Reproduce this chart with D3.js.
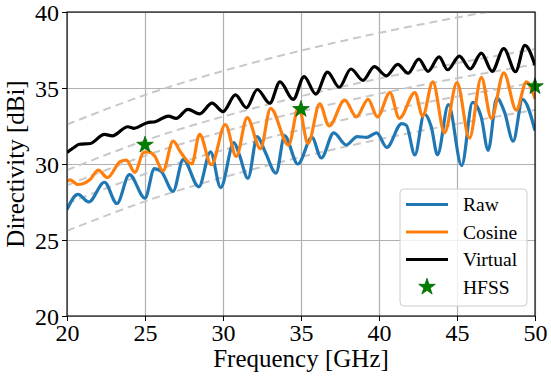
<!DOCTYPE html>
<html lang="en">
<head>
<meta charset="UTF-8">
<title>Directivity vs Frequency</title>
<script src="https://cdn.jsdelivr.net/npm/d3@7/dist/d3.min.js"></script>
<style>
  body { margin: 0; background: #fff; }
  text { font-family: "Liberation Serif", "Times New Roman", serif; fill: #000; }
  .grid line { stroke: #b0b0b0; stroke-width: 1.2; }
  .grid path { display: none; }
</style>
</head>
<body>
<div id="chart"></div>
<script>
// ticks
const xTicks = [20, 25, 30, 35, 40, 45, 50];
const yTicks = [20, 25, 30, 35, 40];

// Raw
const rawFreq = [20.0, 20.7, 21.4, 22.4, 23.2, 24.0, 25.0, 25.6, 26.05, 26.8, 27.45, 28.45, 29.2, 29.85, 30.7, 31.05, 31.6, 32.2, 32.7, 33.4, 33.95, 34.8, 35.7, 36.3, 37.1, 37.9, 38.6, 39.2, 39.85, 40.5, 41.45, 41.75, 42.3, 42.9, 43.35, 43.75, 44.45, 45.3, 46.0, 46.55, 47.0, 47.55, 48.05, 48.6, 49.2, 50.0];
const rawDir  = [27.0, 28.0, 27.5, 28.8, 27.4, 29.3, 27.75, 29.7, 29.5, 28.2, 30.3, 28.5, 30.8, 28.45, 31.4, 30.6, 29.06, 31.8, 30.8, 29.4, 31.85, 30.0, 31.75, 30.4, 32.05, 31.25, 31.8, 31.75, 32.05, 31.1, 32.65, 32.55, 30.6, 33.3, 32.45, 30.6, 33.9, 29.9, 34.05, 33.1, 30.9, 34.35, 33.4, 31.5, 34.25, 32.2];

// Cosine
const cosFreq = [20.0, 20.2, 20.7, 21.5, 22.0, 22.6, 23.4, 23.8, 24.35, 24.9, 25.2, 25.6, 26.15, 26.8, 27.3, 28.0, 28.5, 29.25, 30.15, 30.85, 31.55, 32.4, 33.05, 34.2, 34.85, 35.45, 36.2, 36.8, 37.8, 38.55, 39.3, 39.9, 40.7, 41.3, 42.3, 42.8, 43.45, 44.2, 45.0, 45.8, 46.56, 47.2, 48.0, 48.8, 49.45, 50.0];
const cosDir  = [28.85, 28.95, 28.65, 29.0, 29.6, 29.1, 30.15, 30.25, 29.45, 30.75, 30.8, 30.55, 29.55, 31.5, 30.75, 30.0, 31.95, 29.95, 32.6, 30.5, 33.05, 31.0, 33.66, 31.25, 33.75, 31.35, 33.95, 32.5, 34.2, 33.1, 34.25, 33.1, 34.7, 33.0, 34.7, 33.15, 35.4, 32.05, 35.35, 31.7, 35.7, 33.0, 36.0, 33.55, 35.4, 34.3];

// Virtual
const virFreq = [20.0, 20.4, 20.8, 21.5, 22.4, 22.9, 23.9, 24.3, 25.1, 25.7, 26.5, 27.0, 27.75, 28.5, 29.3, 30.0, 30.8, 31.5, 32.2, 33.0, 33.65, 34.5, 35.2, 35.95, 36.7, 37.45, 38.2, 38.97, 39.7, 40.47, 41.2, 41.86, 42.55, 43.15, 43.85, 44.4, 45.15, 45.85, 46.56, 47.25, 48.0, 48.75, 49.35, 50.0];
const virDir  = [30.75, 31.05, 31.3, 31.35, 31.95, 31.85, 32.45, 32.35, 32.7, 32.8, 33.15, 33.0, 33.6, 33.3, 34.0, 33.45, 34.55, 33.7, 34.9, 34.0, 35.4, 34.25, 35.75, 34.6, 36.05, 35.05, 36.25, 35.5, 36.4, 35.8, 36.55, 35.97, 36.9, 36.1, 37.05, 36.2, 37.1, 36.25, 37.3, 36.1, 37.6, 36.07, 37.8, 36.5];

// HFSS
const hfssFreq = [25, 35, 50];
const hfssDir  = [31.25, 33.6, 35.1];

// gray dashed reference curves
const guideFreq = [20, 25, 30, 35, 40, 45, 50];
const guides = [
  [32.6, 34.54, 36.12, 37.46, 38.62, 39.64, 40.56],
  [29.6, 31.54, 33.12, 34.46, 35.62, 36.64, 37.56],
  [28.6, 30.54, 32.12, 33.46, 34.62, 35.64, 36.56],
  [27.4, 29.34, 30.92, 32.26, 33.42, 34.44, 35.36],
  [25.6, 27.54, 29.12, 30.46, 31.62, 32.64, 33.56]
];

const seriesNames = ["Raw", "Cosine", "Virtual", "HFSS"];
const seriesColors = ["#1f77b4", "#ff7f0e", "#000000", "#008000"];

const W = 551, H = 380;
const margin = { top: 12, right: 16, bottom: 64, left: 67 };
const width = W - margin.left - margin.right,
      height = H - margin.top - margin.bottom;

const svg = d3.select("#chart").append("svg")
    .attr("width", W).attr("height", H);

const g = svg.append("g")
    .attr("transform", "translate(" + margin.left + "," + margin.top + ")");

const x = d3.scaleLinear().domain([20, 50]).range([0, width]);
const y = d3.scaleLinear().domain([20, 40]).range([height, 0]);

g.append("defs").append("clipPath").attr("id", "clip")
  .append("rect").attr("width", width).attr("height", height);

// grid
g.append("g").attr("class", "grid")
    .attr("transform", "translate(0," + height + ")")
    .call(d3.axisBottom(x).tickValues(xTicks).tickSize(-height).tickFormat(""));
g.append("g").attr("class", "grid")
    .call(d3.axisLeft(y).tickValues(yTicks).tickSize(-width).tickFormat(""));

const plot = g.append("g").attr("clip-path", "url(#clip)");

// dashed guides
const guideLine = d3.line().curve(d3.curveNatural)
    .x((d, i) => x(guideFreq[i])).y(d => y(d));
plot.selectAll(".guide").data(guides).enter().append("path")
    .attr("class", "guide")
    .attr("d", guideLine)
    .attr("fill", "none")
    .attr("stroke", "#c8c8c8")
    .attr("stroke-width", 2)
    .attr("stroke-dasharray", "8,5");

const line = d3.line().curve(d3.curveMonotoneX)
    .x(d => x(d[0])).y(d => y(d[1]));
const series = [
  d3.zip(rawFreq, rawDir),
  d3.zip(cosFreq, cosDir),
  d3.zip(virFreq, virDir)
];
series.forEach((s, i) => {
  plot.append("path")
      .attr("d", line(s))
      .attr("fill", "none")
      .attr("stroke", seriesColors[i])
      .attr("stroke-width", 3.2)
      .attr("stroke-linejoin", "round");
});

// HFSS stars
const star = d3.symbol().type(d3.symbolStar).size(85);
g.selectAll(".star").data(d3.zip(hfssFreq, hfssDir)).enter().append("path")
    .attr("class", "star")
    .attr("transform", d => "translate(" + x(d[0]) + "," + y(d[1]) + ")")
    .attr("d", star)
    .attr("fill", seriesColors[3])
    .attr("stroke", "#006400")
    .attr("stroke-width", 0.8);

// axes
const xAxis = g.append("g")
    .attr("transform", "translate(0," + height + ")")
    .call(d3.axisBottom(x).tickValues(xTicks).tickSize(5).tickPadding(3));
const yAxis = g.append("g")
    .call(d3.axisLeft(y).tickValues(yTicks).tickSize(5).tickPadding(3));
[xAxis, yAxis].forEach(a => {
  a.selectAll("text").style("font-size", "24px")
      .style("font-family", "'Liberation Serif', serif").attr("fill", "#000");
  a.selectAll("line").attr("stroke", "#000").attr("stroke-width", 1);
  a.select(".domain").remove();
});
yAxis.selectAll("text").attr("dy", "0.35em");

// frame
g.append("rect").attr("width", width).attr("height", height)
    .attr("fill", "none").attr("stroke", "#000").attr("stroke-width", 1.1);

// axis labels
svg.append("text")
    .attr("x", margin.left + width / 2).attr("y", 367)
    .attr("text-anchor", "middle").style("font-size", "25px")
    .text("Frequency [GHz]");
svg.append("text")
    .attr("transform", "translate(24," + (margin.top + height / 2) + ") rotate(-90)")
    .attr("text-anchor", "middle").style("font-size", "25px")
    .text("Directivity [dBi]");

// legend
const lg = svg.append("g").attr("transform", "translate(400,189)");
lg.append("rect").attr("width", 127).attr("height", 117).attr("rx", 4)
    .attr("fill", "#fff").attr("fill-opacity", 0.8)
    .attr("stroke", "#cccccc").attr("stroke-width", 1);
seriesNames.forEach((name, i) => {
  const ry = 15.5 + i * 27.5;
  if (i < 3) {
    lg.append("line").attr("x1", 6).attr("x2", 48).attr("y1", ry).attr("y2", ry)
        .attr("stroke", seriesColors[i]).attr("stroke-width", 3.2);
  } else {
    lg.append("path").attr("transform", "translate(27," + ry + ")")
        .attr("d", star).attr("fill", seriesColors[3])
        .attr("stroke", "#006400").attr("stroke-width", 0.8);
  }
  lg.append("text").attr("x", 63).attr("y", ry).attr("dy", "0.35em")
      .style("font-size", "19.5px").text(name);
});
</script>
</body>
</html>
